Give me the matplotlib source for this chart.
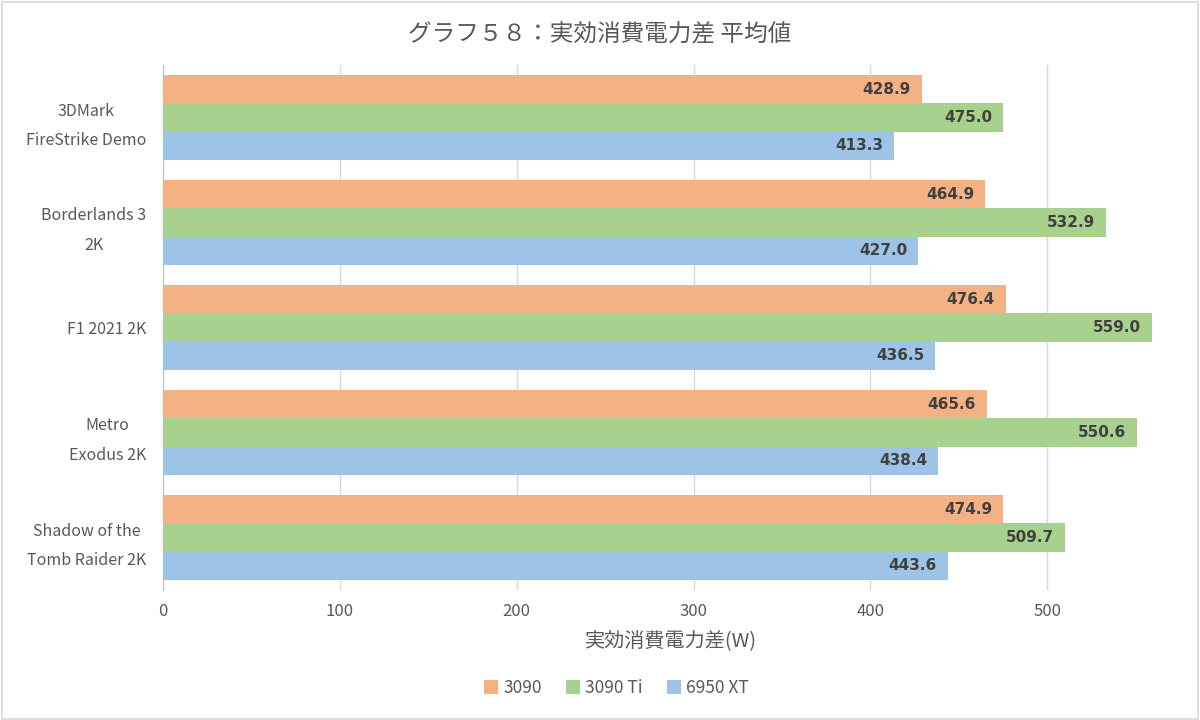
import matplotlib
matplotlib.use("Agg")
import matplotlib.pyplot as plt
import numpy as np
from matplotlib.patches import Rectangle

plt.rcParams['font.family'] = ['Noto Sans CJK JP', 'DejaVu Sans']

categories = ["3DMark\nFireStrike Demo", "Borderlands 3\n2K", "F1 2021 2K",
              "Metro\nExodus 2K", "Shadow of the\nTomb Raider 2K"]
series_names = ["3090", "3090 Ti", "6950 XT"]
v3090 = [428.9, 464.9, 476.4, 465.6, 474.9]
v3090ti = [475.0, 532.9, 559.0, 550.6, 509.7]
v6950 = [413.3, 427.0, 436.5, 438.4, 443.6]
xticks = [0, 100, 200, 300, 400, 500]

colors = ["#F4B183", "#A9D18E", "#9DC3E6"]
text_col = "#595959"

fig = plt.figure(figsize=(12, 7.2), dpi=100)
ax = fig.add_axes([163/1200, 1-590/720, (1180-163)/1200, (590-65)/720])

n = len(categories)
bh = 0.27
y = np.arange(n)
series = [v3090, v3090ti, v6950]
for i, (vals, c, name) in enumerate(zip(series, colors, series_names)):
    pos = y + (i - 1) * bh
    bars = ax.barh(pos, vals, height=bh, color=c, label=name, zorder=3)
    for b, v in zip(bars, vals):
        ax.text(v - 6, b.get_y() + b.get_height()/2, f"{v:.1f}", ha='right', va='center',
                fontsize=11, fontweight='bold', color='#404040', zorder=4,
                family=['DejaVu Sans'])

ax.set_ylim(n - 0.5, -0.5)
ax.set_xlim(0, 575)
ax.set_yticks(y)
ax.set_yticklabels(categories, multialignment='center', linespacing=1.95)
ax.set_xticks(xticks)
ax.tick_params(axis='y', length=0, labelsize=11.5, colors=text_col, pad=12)
ax.tick_params(axis='x', length=0, labelsize=12, colors=text_col, pad=9)
ax.grid(axis='x', color='#D9D9D9', linewidth=1, zorder=0)
for s in ['top', 'right', 'bottom']:
    ax.spines[s].set_visible(False)
ax.spines['left'].set_color('#BFBFBF')
ax.set_xlabel("実効消費電力差(W)", fontsize=14.5, color=text_col, labelpad=8)

fig.text(0.5, 1-35/720, "グラフ５８：実効消費電力差 平均値", ha='center', va='center',
         fontsize=17, color=text_col)

leg = fig.legend(loc='center', bbox_to_anchor=(0.514, 1-688/720), ncol=3, frameon=False,
                 fontsize=12.5, handlelength=0.8, handleheight=0.8, handletextpad=0.3,
                 columnspacing=1.4)
for t in leg.get_texts():
    t.set_color(text_col)

fig.patches.append(Rectangle((0.002, 0.002), 0.996, 0.995, transform=fig.transFigure,
                             fill=False, edgecolor='#D9D9D9', linewidth=1.2))

fig.savefig("out.png", dpi=100, facecolor='white')
